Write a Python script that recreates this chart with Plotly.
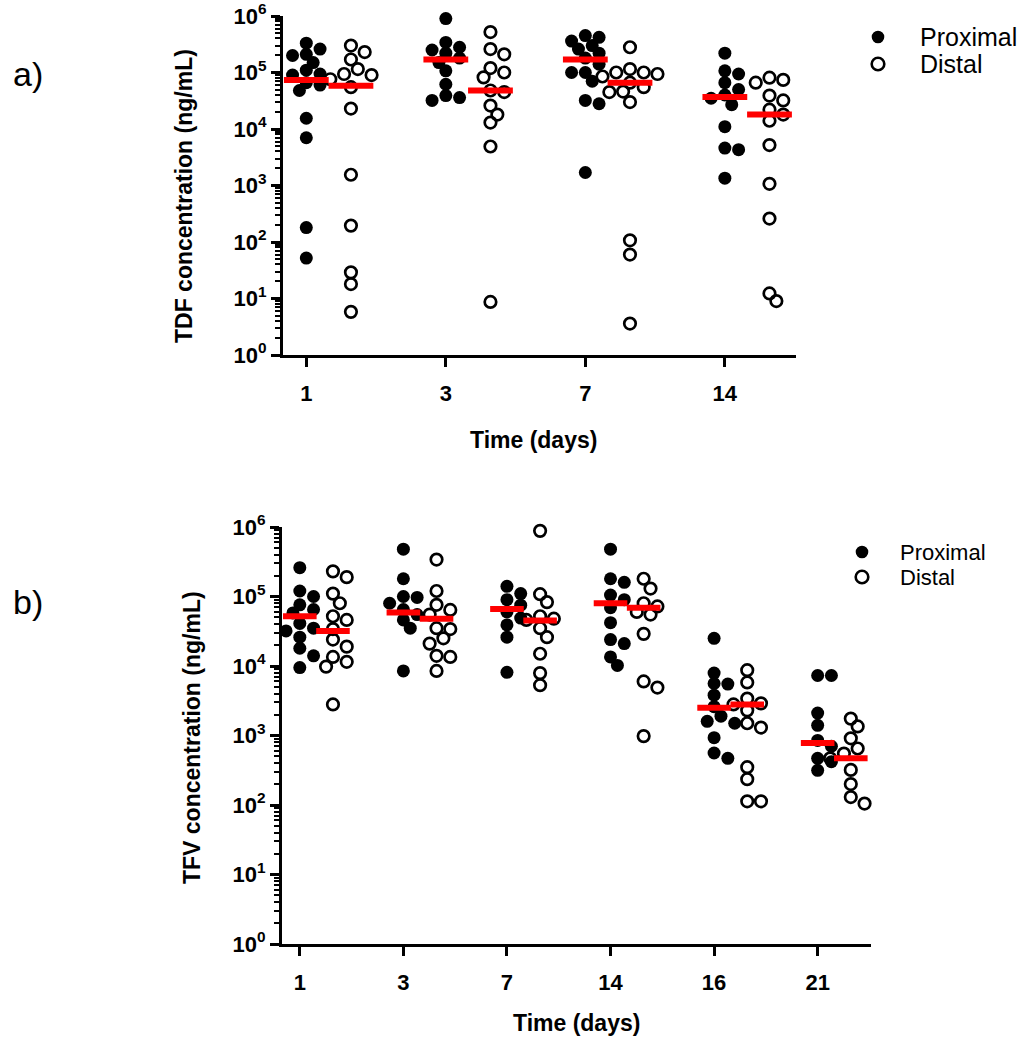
import numpy as np
import plotly.graph_objects as go

W, H = 1025, 1050

# ---------------- data ----------------
tdf_days = ["1", "3", "7", "14"]
tdf_proximal = [
    [3.3e5, 2.6e5, 2.1e5, 2.0e5, 1.5e5, 1.1e5, 9.4e4, 9.0e4, 6.6e4, 6.0e4, 4.8e4, 1.55e4, 7e3, 180, 52],
    [9e5, 3.4e5, 2.8e5, 2.5e5, 2.2e5, 1.8e5, 1.5e5, 1.07e5, 6.2e4, 3.9e4, 3.6e4, 3.2e4],
    [4.5e5, 4.2e5, 3.6e5, 3.0e5, 2.6e5, 2.2e5, 1.8e5, 1.4e5, 1.0e5, 1.0e5, 7e4, 3.2e4, 2.8e4, 1.7e3],
    [2.2e5, 1.07e5, 9.4e4, 6.6e4, 5e4, 4e4, 3.5e4, 2.7e4, 1.1e4, 4.6e3, 4.3e3, 1.35e3],
]
tdf_distal = [
    [3.0e5, 2.3e5, 1.7e5, 1.15e5, 9.4e4, 9.0e4, 7.6e4, 5.5e4, 2.3e4, 1.55e3, 195, 29, 18, 5.8],
    [5.2e5, 2.6e5, 2.1e5, 1.2e5, 1e5, 8.2e4, 4.8e4, 4.5e4, 2.6e4, 1.8e4, 1.3e4, 4.9e3, 8.7],
    [2.8e5, 1.15e5, 1.0e5, 1.0e5, 9.4e4, 8.5e4, 6.6e4, 5.5e4, 4.6e4, 4.5e4, 3.0e4, 107, 60, 3.6],
    [8.1e4, 7.4e4, 6.6e4, 3.9e4, 3.2e4, 2.2e4, 1.8e4, 1.4e4, 5.2e3, 1.07e3, 260, 12.3, 9],
]
tdf_prox_median = [7.4e4, 1.7e5, 1.7e5, 3.7e4]
tdf_dist_median = [5.8e4, 4.8e4, 6.6e4, 1.8e4]

tfv_days = ["1", "3", "7", "14", "16", "21"]
tfv_proximal = [
    [2.6e5, 1.2e5, 1e5, 7.6e4, 6.5e4, 5.8e4, 5.2e4, 4.1e4, 3.5e4, 3.2e4, 2.6e4, 1.8e4, 1.4e4, 9.5e3],
    [4.8e5, 1.8e5, 1e5, 9.7e4, 8e4, 6.5e4, 5.5e4, 4.6e4, 3.5e4, 8.5e3],
    [1.4e5, 1.1e5, 9e4, 7.5e4, 6e4, 4.9e4, 3.9e4, 2.6e4, 8.1e3],
    [4.8e5, 1.8e5, 1.6e5, 1.05e5, 9e4, 6.9e4, 4.2e4, 2.4e4, 2.1e4, 1.35e4, 1.02e4],
    [2.5e4, 7.9e3, 5.6e3, 5.5e3, 3.8e3, 2.6e3, 1.9e3, 1.6e3, 1.5e3, 930, 560, 470],
    [7.3e3, 7.3e3, 2.1e3, 1.4e3, 850, 700, 470, 420, 315],
]
tfv_distal = [
    [2.3e5, 1.9e5, 1.1e5, 8e4, 5.2e4, 4.6e4, 3.4e4, 2.4e4, 1.9e4, 1.35e4, 1.15e4, 9.8e3, 2.8e3],
    [3.4e5, 1.2e5, 7.6e4, 6.4e4, 5.5e4, 3.5e4, 3.4e4, 2.5e4, 2.1e4, 1.4e4, 1.35e4, 8.5e3],
    [8.8e5, 1.08e5, 8.3e4, 5.2e4, 4.8e4, 4.6e4, 3.5e4, 2.6e4, 1.5e4, 7.9e3, 5.3e3],
    [1.8e5, 1.3e5, 8e4, 7.2e4, 6e4, 5.5e4, 2.9e4, 6e3, 4.9e3, 980],
    [8.7e3, 5.8e3, 3.4e3, 2.9e3, 2.8e3, 2.3e3, 1.5e3, 1.3e3, 350, 235, 113, 113],
    [1.75e3, 1.35e3, 910, 650, 550, 520, 470, 320, 200, 130, 105],
]
tfv_prox_median = [5.2e4, 5.9e4, 6.6e4, 8.0e4, 2.5e3, 780]
tfv_dist_median = [3.2e4, 4.8e4, 4.5e4, 6.9e4, 2.8e3, 470]

decade_ticks = [10 ** k for k in range(7)]
decade_text = ["10<sup>%d</sup>" % k for k in range(7)]
minor_ticks = [m * 10 ** k for k in range(6) for m in range(2, 10)]

# ---------------- layout geometry (target screen pixels) ----------------
PANELS = [
    dict(x0=283, x1=796, ytop=16, ybot=355, xr=(-0.167, 3.51), bar=32),
    dict(x0=282, x1=871, ytop=527, ybot=944, xr=(-0.172, 5.515), bar=24),
]
DIST_SHIFT = 0.32
MD = 12.5  # marker diameter px


def swarm(vals, ppx_unit, ppx_decade):
    """Deterministic beeswarm: returns x offsets (data units)."""
    order = np.argsort(-np.asarray(vals))
    placed = []
    offs = [0.0] * len(vals)
    for i in order:
        y = -np.log10(vals[i]) * ppx_decade
        for k in [0, 1, -1, 2, -2, 3, -3, 4, -4]:
            xo = k * MD * 0.55
            ok = all((xo - px) ** 2 + (y - py) ** 2 >= (MD * 0.82) ** 2 for px, py in placed)
            if ok:
                break
        placed.append((xo, y))
        offs[i] = xo / ppx_unit
    return offs


fig = go.Figure()
datasets = [
    (tdf_days, tdf_proximal, tdf_distal, tdf_prox_median, tdf_dist_median),
    (tfv_days, tfv_proximal, tfv_distal, tfv_prox_median, tfv_dist_median),
]

for p, (days, prox, dist, pm, dm) in enumerate(datasets):
    g = PANELS[p]
    ppx_unit = (g["x1"] - g["x0"]) / (g["xr"][1] - g["xr"][0])
    ppx_dec = (g["ybot"] - g["ytop"]) / 6.0
    xa = "x" if p == 0 else "x2"
    ya = "y" if p == 0 else "y2"
    for series, shift, filled in [(prox, 0.0, True), (dist, DIST_SHIFT, False)]:
        xs, ys = [], []
        for i, vals in enumerate(series):
            offs = swarm(vals, ppx_unit, ppx_dec)
            xs += [i + shift + o for o in offs]
            ys += list(vals)
        if filled:
            marker = dict(symbol="circle", size=13, color="black", line=dict(width=0))
        else:
            marker = dict(symbol="circle-open", size=11.5, color="black", line=dict(width=2.7, color="black"))
        fig.add_trace(go.Scatter(x=xs, y=ys, mode="markers", marker=marker,
                                 xaxis=xa, yaxis=ya, showlegend=False, hoverinfo="skip",
                                 cliponaxis=False))
    mx = [i for i in range(len(days))] + [i + DIST_SHIFT for i in range(len(days))]
    my = list(pm) + list(dm)
    fig.add_trace(go.Scatter(x=mx, y=my, mode="markers",
                             marker=dict(symbol="line-ew", size=g["bar"], color="#ff0000",
                                         line=dict(width=6, color="#ff0000")),
                             xaxis=xa, yaxis=ya, showlegend=False, hoverinfo="skip",
                             cliponaxis=False))


def px2x(px):
    return px / W


def px2y(py):
    return 1 - py / H


FONT = "Liberation Sans, Arial, sans-serif"
axis_common = dict(showline=True, linewidth=3, linecolor="black", showgrid=False, zeroline=False,
                   ticks="outside", tickwidth=3, tickcolor="black", mirror=False, automargin=False,
                   ticklabeloverflow="allow")

for p, (days, *_rest) in enumerate(datasets):
    g = PANELS[p]
    xkey = "xaxis" if p == 0 else "xaxis2"
    ykey = "yaxis" if p == 0 else "yaxis2"
    yanchor = "y" if p == 0 else "y2"
    xanchor = "x" if p == 0 else "x2"
    fig.update_layout(**{
        xkey: dict(axis_common, domain=[px2x(g["x0"]), px2x(g["x1"])], range=list(g["xr"]),
                   anchor=yanchor, tickvals=list(range(len(days))), ticktext=days, ticklen=9,
                   ticklabelstandoff=8,
                   tickfont=dict(family=FONT, size=22, color="black", weight="bold")),
        ykey: dict(axis_common, domain=[px2y(g["ybot"]), px2y(g["ytop"])], type="log", range=[0, 6],
                   anchor=xanchor, tickvals=decade_ticks, ticktext=decade_text, ticklen=9,
                   tickfont=dict(family=FONT, size=22, color="black", weight="bold"),
                   minor=dict(tickvals=minor_ticks, ticks="outside", ticklen=5, tickwidth=2,
                              tickcolor="black", showgrid=False)),
    })

annotations = [
    dict(text="a)", x=px2x(28), y=px2y(74), font=dict(size=34, family=FONT, color="black")),
    dict(text="b)", x=px2x(28), y=px2y(602), font=dict(size=34, family=FONT, color="black")),
    dict(text="TDF concentration (ng/mL)", x=px2x(184), y=px2y(196), textangle=-90,
         font=dict(size=23, family=FONT, color="black", weight="bold")),
    dict(text="TFV concentration (ng/mL)", x=px2x(192), y=px2y(738), textangle=-90,
         font=dict(size=23, family=FONT, color="black", weight="bold")),
    dict(text="Time (days)", x=px2x(533), y=px2y(440),
         font=dict(size=23, family=FONT, color="black", weight="bold")),
    dict(text="Time (days)", x=px2x(576), y=px2y(1023),
         font=dict(size=23, family=FONT, color="black", weight="bold")),
    dict(text="Proximal", x=px2x(918), y=px2y(37), xanchor="left",
         font=dict(size=25, family=FONT, color="black")),
    dict(text="Distal", x=px2x(918), y=px2y(64), xanchor="left",
         font=dict(size=25, family=FONT, color="black")),
    dict(text="Proximal", x=px2x(898), y=px2y(552), xanchor="left",
         font=dict(size=22, family=FONT, color="black")),
    dict(text="Distal", x=px2x(898), y=px2y(577), xanchor="left",
         font=dict(size=22, family=FONT, color="black")),
]
for a in annotations:
    a.update(xref="paper", yref="paper", showarrow=False)
    a.setdefault("xanchor", "center")
    a.setdefault("yanchor", "middle")

shapes = []
for cx, cy, filled in [(878, 37, True), (878, 64, False), (862, 552, True), (862, 577, False)]:
    r = 6.3
    shapes.append(dict(type="circle", xref="paper", yref="paper",
                       x0=px2x(cx - r), x1=px2x(cx + r), y0=px2y(cy + r), y1=px2y(cy - r),
                       fillcolor="black" if filled else "rgba(0,0,0,0)",
                       line=dict(color="black", width=0 if filled else 2.6)))

fig.update_layout(template="none", width=W, height=H, autosize=False,
                  margin=dict(l=0, r=0, t=0, b=0, pad=0),
                  paper_bgcolor="white", plot_bgcolor="white", showlegend=False,
                  annotations=annotations, shapes=shapes, font=dict(family=FONT, color="black"))

fig.write_html("out.html", config={"displayModeBar": False, "staticPlot": True},
               post_script="document.body.style.margin='0px';")
